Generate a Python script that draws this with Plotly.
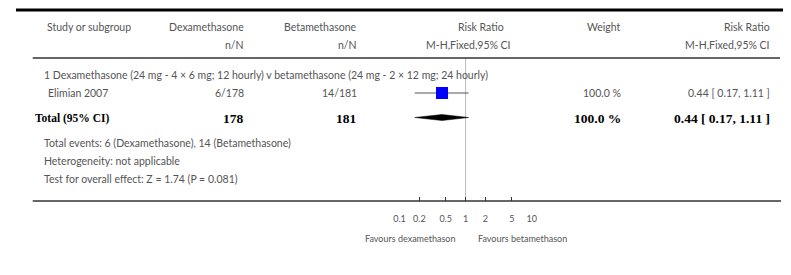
import plotly.graph_objects as go

# ---- data ----
studies = ["Elimian 2007"]
dex_events = [6]
dex_total = [178]
beta_events = [14]
beta_total = [181]
rr = [0.44]
ci_low = [0.17]
ci_high = [1.11]
weights = ["100.0 %"]
pooled_rr = 0.44
pooled_low = 0.17
pooled_high = 1.11
pooled_weight = "100.0 %"
total_dex = 178
total_beta = 181
tick_vals = [0.1, 0.2, 0.5, 1, 2, 5, 10]
tick_text = ["0.1", "0.2", "0.5", "1", "2", "5", "10"]
subgroup_title = "1 Dexamethasone (24 mg - 4 × 6 mg; 12 hourly) v betamethasone (24 mg - 2 × 12 mg; 24 hourly)"
footnotes = [
    "Total events: 6 (Dexamethasone), 14 (Betamethasone)",
    "Heterogeneity: not applicable",
    "Test for overall effect: Z = 1.74 (P = 0.081)",
]

# ---- layout constants (page pixels; page body has an 8px margin) ----
OX, OY = 8, 8
W, H = 791 - OX, 275 - OY
PAGE_AXIS_Y = 201
PLOT_BOTTOM = PAGE_AXIS_Y - OY
GRAY = "#555555"
SANS = "Lato, 'Open Sans', sans-serif"
SERIF = "'Liberation Serif', 'Times New Roman', serif"


def fx(px):
    return (px - OX) / W


def fy(py):
    return 1 - (py - OY) / PLOT_BOTTOM


def dyv(py):
    return py - OY


fig = go.Figure()

# study CI line and square
row_y = [93]
for i in range(len(studies)):
    y = dyv(row_y[i])
    fig.add_trace(go.Scatter(x=[ci_low[i], ci_high[i]], y=[y, y], mode="lines",
                             line=dict(color="#555555", width=1), hoverinfo="skip", showlegend=False))
    fig.add_trace(go.Scatter(x=[rr[i]], y=[y], mode="markers",
                             marker=dict(symbol="square", size=12, color="#0000ff", line=dict(width=0)),
                             hoverinfo="skip", showlegend=False))

# pooled diamond
dy = dyv(117.5)
fig.add_trace(go.Scatter(x=[pooled_low, pooled_rr, pooled_high, pooled_rr, pooled_low],
                         y=[dy, dy - 3, dy, dy + 3, dy], mode="lines", fill="toself",
                         fillcolor="black", line=dict(color="black", width=0.5),
                         hoverinfo="skip", showlegend=False))

ann = []


def txt(s, px, py, anchor="left", size=10.5, bold=False, color=GRAY):
    ann.append(dict(text=("<b>%s</b>" % s) if bold else s, x=fx(px), y=fy(py), xref="paper", yref="paper",
                    xanchor=anchor, yanchor="middle", showarrow=False,
                    font=dict(family=SERIF if bold else SANS, size=size, color="black" if bold else color)))


# headers
txt("Study or subgroup", 39, 27)
txt("Dexamethasone", 243, 27, "right")
txt("n/N", 243, 45, "right")
txt("Betamethasone", 358, 27, "right")
txt("n/N", 358, 45, "right")
txt("Risk Ratio", 507, 27, "right")
txt("M-H,Fixed,95% CI", 514, 45, "right")
txt("Weight", 626, 27, "right")
txt("Risk Ratio", 777, 27, "right")
txt("M-H,Fixed,95% CI", 777, 45, "right")

# subgroup
txt(subgroup_title, 36, 75)
for i, s in enumerate(studies):
    txt(s, 40, row_y[i])
    txt("%d/%d" % (dex_events[i], dex_total[i]), 243, row_y[i], "right")
    txt("%d/%d" % (beta_events[i], beta_total[i]), 358, row_y[i], "right")
    txt(weights[i], 626, row_y[i], "right")
    txt("%.2f [ %.2f, %.2f ]" % (rr[i], ci_low[i], ci_high[i]), 777, row_y[i], "right")

# total
txt("Total (95% CI)", 27, 118, size=11.5, bold=True)
txt(str(total_dex), 243, 118, "right", size=13.5, bold=True)
txt(str(total_beta), 358, 118, "right", size=13.5, bold=True)
txt(pooled_weight, 626, 118, "right", size=13.5, bold=True)
txt("%.2f [ %.2f, %.2f ]" % (pooled_rr, pooled_low, pooled_high), 777, 118, "right", size=13.5, bold=True)

for k, f in enumerate(footnotes):
    txt(f, 36, [143, 161, 179][k])

txt("Favours dexamethason", 457, 238, "right", size=9)
txt("Favours betamethason", 477, 238, "left", size=9)

shapes = [
    dict(type="line", xref="paper", yref="paper", x0=fx(10), x1=fx(790),
         y0=fy(10), y1=fy(10), line=dict(color="black", width=3)),
    dict(type="line", xref="paper", yref="paper", x0=fx(27), x1=fx(785),
         y0=fy(58), y1=fy(58), line=dict(color="#333333", width=1.5)),
    dict(type="line", xref="paper", yref="paper", x0=fx(27), x1=fx(786),
         y0=0, y1=0, line=dict(color="#333333", width=1.5)),
    dict(type="line", xref="x", yref="y", x0=1, x1=1, y0=dyv(58), y1=PLOT_BOTTOM,
         line=dict(color="#bbbbbb", width=1), layer="below"),
]

fig.update_layout(
    width=W, height=H,
    margin=dict(l=0, r=0, t=0, b=H - PLOT_BOTTOM, pad=0),
    paper_bgcolor="white", plot_bgcolor="white",
    showlegend=False,
    annotations=ann,
    shapes=shapes,
    xaxis=dict(type="log", domain=[fx(399), fx(533)], range=[-1, 1], showgrid=False, zeroline=False,
               showline=False, ticks="inside", ticklen=4, tickwidth=1, tickcolor="#333333",
               tickvals=tick_vals, ticktext=tick_text, ticklabelstandoff=11,
               tickfont=dict(family=SANS, size=9, color=GRAY), fixedrange=True),
    yaxis=dict(range=[PLOT_BOTTOM, 0], visible=False, fixedrange=True),
)

fig.write_html("out.html")
